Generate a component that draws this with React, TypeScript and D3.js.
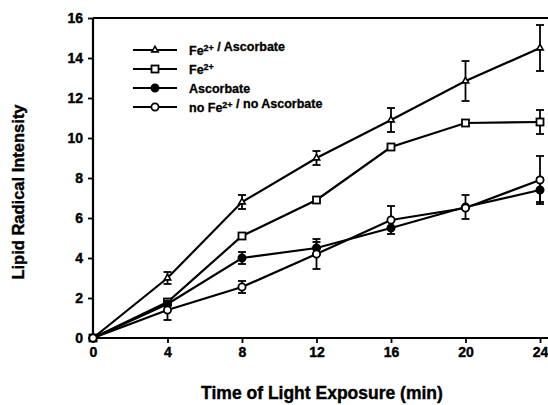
import React, { useEffect, useRef } from 'react';
import * as d3 from 'd3';

const times = [0, 4, 8, 12, 16, 20, 24];
const feAsc = [0, 3.0, 6.8, 9.0, 10.9, 12.85, 14.5];
const feAscErr = [0, 0.3, 0.35, 0.35, 0.6, 1.0, 1.15];
const fe = [0, 1.8, 5.1, 6.9, 9.55, 10.75, 10.8];
const feErr = [0, 0, 0, 0, 0, 0, 0.6];
const asc = [0, 1.7, 4.0, 4.5, 5.5, 6.55, 7.4];
const ascErr = [0, 0, 0.3, 0.3, 0, 0.6, 0.6];
const none = [0, 1.4, 2.55, 4.2, 5.9, 6.5, 7.9];
const noneErr = [0, 0.5, 0.3, 0.75, 0.7, 0, 1.2];
const yTicks = [0, 2, 4, 6, 8, 10, 12, 14, 16];
const xTicks = [0, 4, 8, 12, 16, 20, 24];

const series = [
  { name: 'Fe2+ / Ascorbate', values: feAsc, err: feAscErr, marker: 'triangle' },
  { name: 'Fe2+', values: fe, err: feErr, marker: 'square' },
  { name: 'Ascorbate', values: asc, err: ascErr, marker: 'filled' },
  { name: 'no Fe2+ / no Ascorbate', values: none, err: noneErr, marker: 'open' },
];

function App() {
  const ref = useRef<SVGSVGElement>(null);

  useEffect(() => {
    const svg = d3.select(ref.current);
    svg.selectAll('*').remove();
    const font = '"Liberation Sans", Arial, sans-serif';

    const x = d3.scaleLinear().domain([0, 24]).range([93, 540]);
    const y = d3.scaleLinear().domain([0, 16]).range([338, 18]);

    // frame: top line + axes
    svg.append('line').attr('x1', 93).attr('x2', 548).attr('y1', 18).attr('y2', 18)
      .attr('stroke', '#000').attr('stroke-width', 2);

    const yAxis = svg.append('g').attr('transform', 'translate(93,0)')
      .call(d3.axisLeft(y).tickValues(yTicks).tickSize(5).tickPadding(5));
    const xAxis = svg.append('g').attr('transform', 'translate(0,338)')
      .call(d3.axisBottom(x).tickValues(xTicks).tickSize(5).tickPadding(4));
    [xAxis, yAxis].forEach(g => {
      g.select('.domain').attr('stroke-width', 2.2);
      g.selectAll('.tick line').attr('stroke-width', 1.8);
      g.selectAll('text').attr('font-family', font).attr('font-weight', 'bold')
        .attr('font-size', 14).attr('fill', '#000')
        .attr('stroke', '#000').attr('stroke-width', 0.4);
    });
    xAxis.select('.domain').attr('d', 'M93,0H548');
    yAxis.select('.domain').attr('d', 'M0,338V18');

    const line = d3.line<number>().x((_, i) => x(times[i])).y(d => y(d));

    const drawMarker = (g: any, kind: string, cx: number, cy: number) => {
      if (kind === 'triangle') {
        g.append('path').attr('d', d3.symbol(d3.symbolTriangle, 18)())
          .attr('transform', `translate(${cx},${cy})`)
          .attr('fill', '#fff').attr('stroke', '#000').attr('stroke-width', 1.6);
      } else if (kind === 'square') {
        g.append('rect').attr('x', cx - 3.5).attr('y', cy - 3.5).attr('width', 7).attr('height', 7)
          .attr('fill', '#fff').attr('stroke', '#000').attr('stroke-width', 1.8);
      } else {
        g.append('circle').attr('cx', cx).attr('cy', cy).attr('r', 3.6)
          .attr('fill', kind === 'filled' ? '#000' : '#fff')
          .attr('stroke', '#000').attr('stroke-width', 1.8);
      }
    };

    const plot = svg.append('g');
    series.forEach(s => {
      plot.append('path').datum(s.values).attr('d', line)
        .attr('fill', 'none').attr('stroke', '#000').attr('stroke-width', 2.2);
      s.values.forEach((v, i) => {
        const e = s.err[i];
        if (e > 0) {
          const cx = x(times[i]);
          plot.append('line').attr('x1', cx).attr('x2', cx).attr('y1', y(v - e)).attr('y2', y(v + e))
            .attr('stroke', '#000').attr('stroke-width', 1.8);
          [v - e, v + e].forEach(b => {
            plot.append('line').attr('x1', cx - 4).attr('x2', cx + 4).attr('y1', y(b)).attr('y2', y(b))
              .attr('stroke', '#000').attr('stroke-width', 1.8);
          });
        }
      });
    });
    series.forEach(s => {
      s.values.forEach((v, i) => drawMarker(plot, s.marker, x(times[i]), y(v)));
    });

    // legend
    const legend = svg.append('g');
    series.forEach((s, i) => {
      const ly = 50 + i * 19;
      legend.append('line').attr('x1', 133).attr('x2', 177).attr('y1', ly).attr('y2', ly)
        .attr('stroke', '#000').attr('stroke-width', 2);
      drawMarker(legend, s.marker, 155, ly);
      const t = legend.append('text').attr('x', 189).attr('y', ly + 4.5)
        .attr('font-family', font).attr('font-weight', 'bold').attr('font-size', 12.5)
        .attr('stroke', '#000').attr('stroke-width', 0.3);
      const parts = s.name.split('2+');
      parts.forEach((p, j) => {
        t.append('tspan').text(p);
        if (j < parts.length - 1) {
          t.append('tspan').attr('font-size', 9).attr('dy', -4).text('2+');
          t.append('tspan').attr('dy', 4).text('');
        }
      });
    });

    svg.append('text').attr('transform', 'translate(24,192) rotate(-90)')
      .attr('text-anchor', 'middle').attr('font-family', font).attr('font-weight', 'bold')
      .attr('font-size', 16.5).attr('stroke', '#000').attr('stroke-width', 0.4)
      .text('Lipid Radical Intensity');
    svg.append('text').attr('x', 322).attr('y', 399)
      .attr('text-anchor', 'middle').attr('font-family', font).attr('font-weight', 'bold')
      .attr('font-size', 17.5).attr('stroke', '#000').attr('stroke-width', 0.4)
      .text('Time of Light Exposure (min)');
  }, []);

  return <svg ref={ref} width={548} height={405} style={{ position: 'absolute', left: 0, top: 0, background: '#fff' }} />;
}

export default App;
